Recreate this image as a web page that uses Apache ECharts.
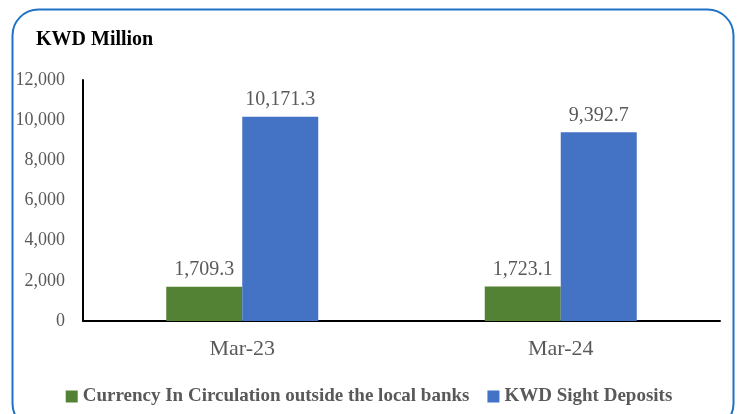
<!DOCTYPE html>
<html>
<head>
<meta charset="utf-8">
<script src="https://cdn.jsdelivr.net/npm/echarts@6/dist/echarts.min.js"></script>
<style>
  html, body { margin: 0; padding: 0; background: #fff; }
  #chart { width: 738px; height: 414px; }
</style>
</head>
<body>
<div id="chart"></div>
<script>
// Values (KWD Million)
const categories = ['Mar-23', 'Mar-24'];
const currencyValues = [1709.3, 1723.1];
const depositValues = [10171.3, 9392.7];
const seriesNames = ['Currency In Circulation outside the local banks', 'KWD Sight Deposits'];

const FONT = '"Liberation Serif", "DejaVu Serif", serif';
const LABEL_GREY = '#595959';

const fmt = (v) => Number(v).toLocaleString('en-US', { minimumFractionDigits: 1, maximumFractionDigits: 1 });

const chart = echarts.init(document.getElementById('chart'), null, { renderer: 'canvas' });

const barLabel = {
    show: true,
    position: 'top',
    distance: 7,
    color: LABEL_GREY,
    fontFamily: FONT,
    fontSize: 20,
    formatter: (p) => fmt(p.value),
};

chart.setOption({
    animation: false,
    backgroundColor: '#fff',
    textStyle: { fontFamily: FONT },
    title: {
        text: 'KWD Million',
        left: 31,
        top: 25,
        textStyle: { fontFamily: FONT, fontWeight: 'bold', fontSize: 20, color: '#000' },
    },
    graphic: [{
        type: 'rect',
        left: 10,
        top: 7,
        shape: { width: 721, height: 420, r: 26 },
        style: { fill: 'none', stroke: '#1f72c4', lineWidth: 2 },
        silent: true,
    }],
    legend: {
        bottom: 3,
        left: 'center',
        itemWidth: 12,
        itemHeight: 12,
        itemGap: 18,
        icon: 'rect',
        textStyle: { fontFamily: FONT, fontWeight: 'bold', fontSize: 19, color: LABEL_GREY },
        data: seriesNames,
    },
    grid: { left: 83, right: 18, top: 80, bottom: 93, containLabel: false },
    xAxis: {
        type: 'category',
        data: categories,
        axisLine: { lineStyle: { color: '#000', width: 2 } },
        axisTick: { show: false },
        axisLabel: { color: LABEL_GREY, fontFamily: FONT, fontSize: 22, margin: 17 },
    },
    yAxis: {
        type: 'value',
        min: 0,
        max: 12000,
        interval: 2000,
        axisLine: { show: true, lineStyle: { color: '#000', width: 2 } },
        axisTick: { show: false },
        splitLine: { show: false },
        axisLabel: {
            color: LABEL_GREY,
            fontFamily: FONT,
            fontSize: 18,
            margin: 18,
            formatter: (v) => Number(v).toLocaleString('en-US'),
        },
    },
    series: [
        {
            name: seriesNames[0],
            type: 'bar',
            data: currencyValues,
            barWidth: 76,
            barGap: '0%',
            itemStyle: { color: '#548235' },
            label: barLabel,
        },
        {
            name: seriesNames[1],
            type: 'bar',
            data: depositValues,
            barWidth: 76,
            barGap: '0%',
            itemStyle: { color: '#4472c4' },
            label: barLabel,
        },
    ],
});
</script>
</body>
</html>
